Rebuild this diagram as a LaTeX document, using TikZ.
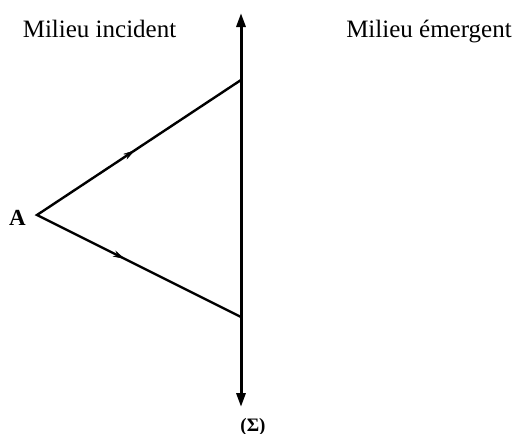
\documentclass[tikz,border=0pt]{standalone}
\usepackage{fontspec}
\setmainfont{Liberation Serif}
\usetikzlibrary{arrows.meta,decorations.markings}
\begin{document}
\begin{tikzpicture}[x=1pt,y=-1pt,
  lbl/.style={inner sep=0pt,font=\fontsize{25}{28}\selectfont},
  ray/.style={postaction={decorate},decoration={markings,mark=at position #1 with {\arrow{Stealth[length=12pt,width=6.5pt]}}}},
  axis/.style={line width=3pt,{Triangle[length=14pt,width=9pt]}-{Triangle[length=14pt,width=9pt]}}]
\useasboundingbox (0,0) rectangle (523,434);
\coordinate (top) at (241,13);
\coordinate (bot) at (241,407);
\coordinate (I) at (241,80);
\coordinate (J) at (241,317);
\coordinate (A) at (37,215);
\draw[axis] (bot) -- (top);
\draw[line width=2.4pt,line join=miter] (I) -- (A) -- (J);
\path[ray=0.48] (A) -- (I);
\path[ray=0.43] (A) -- (J);
\node[lbl,anchor=base] (t1) at (99.5,37) {Milieu incident};
\node[lbl,anchor=base] (t2) at (429,37) {Milieu émergent};
\node[inner sep=0pt,anchor=base,font=\fontsize{23}{26}\selectfont\bfseries] (la) at (17.5,225) {A};
\node[inner sep=0pt,anchor=base,font=\fontsize{19}{22}\selectfont\bfseries] (ls) at (253,431) {(Σ)};
\end{tikzpicture}
\end{document}
